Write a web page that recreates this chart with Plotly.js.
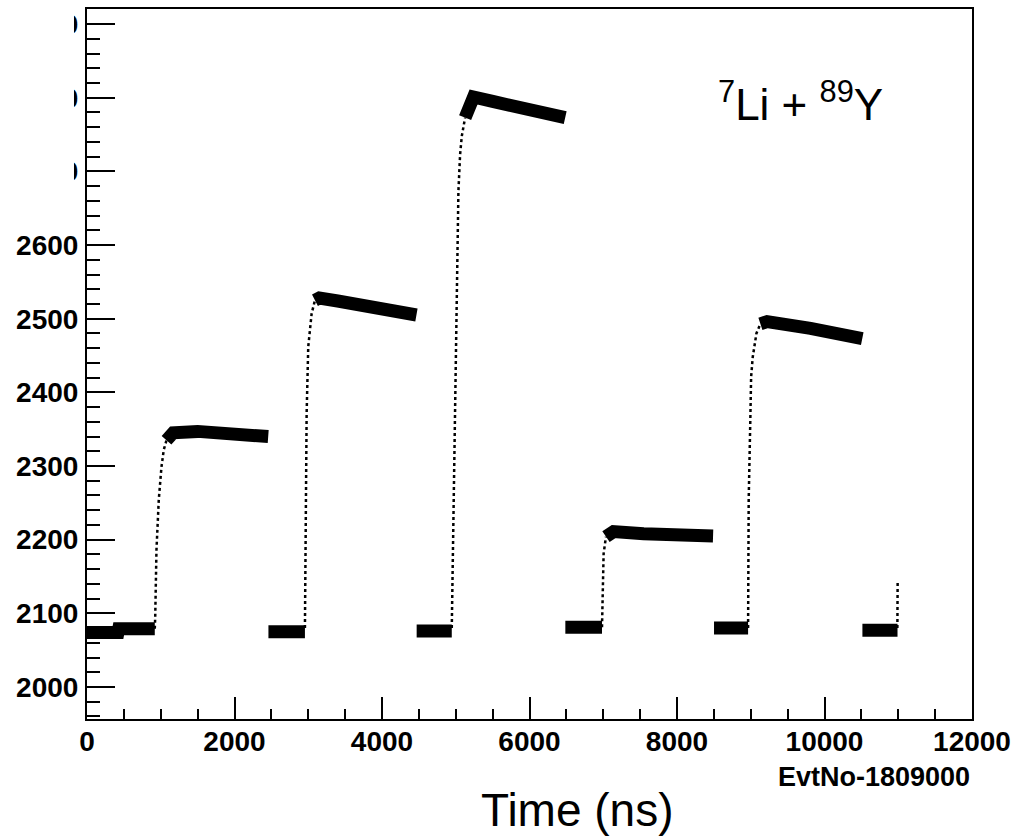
<!DOCTYPE html>
<html>
<head>
<meta charset="utf-8">
<script src="https://cdn.plot.ly/plotly-3.0.1.min.js"></script>
<style>
  html, body { margin: 0; padding: 0; background: #ffffff; }
  #chart { width: 1030px; height: 836px; }
</style>
</head>
<body>
<div id="chart"></div>
<script>
// Dense (noisy) parts of the waveform: baselines and plateaus
const bandTime = [0, 420, 430, 919, null,
  1078, 1168, 1500, 2000, 2457, null,
  2460, 2955, null,
  3091, 3150, 3400, 3800, 4200, 4467, null,
  4470, 4946, null,
  5127, 5195, 5241, 5500, 5900, 6200, 6484, null,
  6486, 6983, null,
  7037, 7140, 7547, 8000, 8489, null,
  8502, 8964, null,
  9131, 9222, 9810, 10200, 10512, null,
  10514, 10990];
const bandValue = [2074, 2074, 2079, 2079, null,
  2335, 2345, 2347, 2344, 2340, null,
  2075, 2075, null,
  2525, 2528, 2524, 2516, 2510, 2505, null,
  2076, 2076, null,
  2773, 2794, 2801, 2795, 2787, 2780, 2773, null,
  2081, 2081, null,
  2204, 2211, 2208, 2207, 2205, null,
  2080, 2080, null,
  2493, 2496, 2487, 2480, 2473, null,
  2077, 2077];

// Sparse samples on the rising edges
const riseTime = [919, 925, 942, 973, 1010, 1041, 1078, null,
  2955, 2978, 3000, 3023, 3046, 3091, null,
  4946, 4960, 4978, 4996, 5014, 5036, 5059, 5082, 5127, null,
  6983, 6991, 7005, 7037, null,
  8964, 8972, 8995, 9005, 9027, 9050, 9077, 9131, null,
  10988, 10990, 10992];
const riseValue = [2079, 2095, 2186, 2254, 2299, 2322, 2335, null,
  2080, 2371, 2462, 2489, 2507, 2525, null,
  2080, 2173, 2323, 2473, 2573, 2673, 2723, 2748, 2773, null,
  2081, 2141, 2181, 2204, null,
  2080, 2254, 2367, 2421, 2448, 2462, 2480, 2493, null,
  2080, 2110, 2145];

const xTickValues = [0, 2000, 4000, 6000, 8000, 10000, 12000];
const yTickValues = [2000, 2100, 2200, 2300, 2400, 2500, 2600, 2700, 2800, 2900];

const tickFont = {family: 'Liberation Sans, Arial, sans-serif', size: 28, color: '#000', weight: 'bold'};

const traces = [
  {x: bandTime, y: bandValue, type: 'scatter', mode: 'lines', connectgaps: false,
   line: {color: '#000', width: 13}, hoverinfo: 'skip', showlegend: false},
  {x: riseTime, y: riseValue, type: 'scatter', mode: 'lines', connectgaps: false,
   line: {color: '#000', width: 2.5, dash: 'dot'}, hoverinfo: 'skip', showlegend: false}
];

const layout = {
  width: 1030, height: 836,
  margin: {l: 87, r: 58, t: 9, b: 117, pad: 0},
  paper_bgcolor: '#ffffff', plot_bgcolor: '#ffffff',
  showlegend: false,
  xaxis: {
    range: [0, 12000], tickvals: xTickValues, ticktext: xTickValues.map(String),
    ticks: 'inside', ticklen: 22, tickwidth: 2, tickcolor: '#000',
    minor: {dtick: 500, tick0: 0, ticks: 'inside', ticklen: 10, tickwidth: 2, tickcolor: '#000'},
    showline: true, linecolor: '#000', linewidth: 2, mirror: true,
    showgrid: false, zeroline: false, tickfont: tickFont, ticklabelstandoff: -4
  },
  yaxis: {
    range: [1956.5, 2920.5], tickvals: yTickValues, ticktext: yTickValues.map(String),
    ticks: 'inside', ticklen: 28, tickwidth: 2, tickcolor: '#000',
    minor: {dtick: 20, tick0: 0, ticks: 'inside', ticklen: 13, tickwidth: 2, tickcolor: '#000'},
    showline: true, linecolor: '#000', linewidth: 2, mirror: true,
    showgrid: false, zeroline: false, tickfont: tickFont, ticklabelstandoff: 1
  },
  shapes: [
    {type: 'rect', xref: 'paper', yref: 'paper', layer: 'above',
     x0: -0.11, x1: -0.0147, y0: 0.725, y1: 1.02,
     fillcolor: '#ffffff', line: {width: 0}}
  ],
  annotations: [
    {text: 'EvtNo-1809000', xref: 'paper', yref: 'paper', x: 1.0, y: -0.081,
     xanchor: 'right', yanchor: 'middle', showarrow: false,
     font: {family: 'Liberation Sans, Arial, sans-serif', size: 27, color: '#000', weight: 'bold'}},
    {text: 'Time (ns)', xref: 'paper', yref: 'paper', x: 0.554, y: -0.128,
     xanchor: 'center', yanchor: 'middle', showarrow: false,
     font: {family: 'Liberation Sans, Arial, sans-serif', size: 46, color: '#000'}},
    {text: '<sup>7</sup>Li + <sup>89</sup>Y', xref: 'paper', yref: 'paper', x: 0.806, y: 0.87,
     xanchor: 'center', yanchor: 'middle', showarrow: false,
     font: {family: 'Liberation Sans, Arial, sans-serif', size: 44, color: '#000'}}
  ]
};

Plotly.newPlot('chart', traces, layout, {staticPlot: true, displayModeBar: false});
</script>
</body>
</html>
